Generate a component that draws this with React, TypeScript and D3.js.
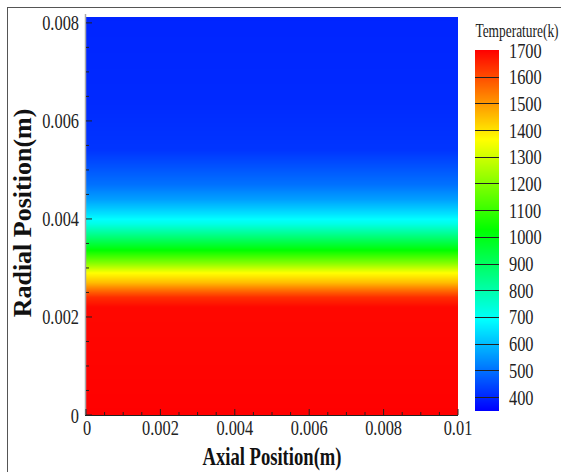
import React from "react";
import * as d3 from "d3";

// Radial temperature profile (uniform along axial direction)
const radialPosition = [0, 0.0022, 0.0024, 0.00255, 0.0027, 0.0029, 0.0031, 0.0034, 0.0037, 0.0039, 0.0041, 0.0044, 0.0047, 0.0054, 0.0064, 0.00812];
const temperature = [1700, 1690, 1640, 1550, 1450, 1360, 1200, 1000, 830, 720, 650, 560, 500, 420, 405, 398];

const xTicks = [0, 0.002, 0.004, 0.006, 0.008, 0.01];
const xTickLabels = ["0", "0.002", "0.004", "0.006", "0.008", "0.01"];
const yTicks = [0, 0.002, 0.004, 0.006, 0.008];
const yTickLabels = ["0", "0.002", "0.004", "0.006", "0.008"];
const legendLevels = [1700, 1600, 1500, 1400, 1300, 1200, 1100, 1000, 900, 800, 700, 600, 500, 400];

const W = 561;
const H = 472;
const FONT = "'Liberation Serif', 'Times New Roman', serif";
const SX = 0.745;

export default function App() {
  const x = d3.scaleLinear().domain([0, 0.01]).range([86, 458]);
  const y = d3.scaleLinear().domain([0, 0.00812]).range([415, 17]);
  const color = d3
    .scaleLinear<string>()
    .domain([350, 687.5, 1025, 1362.5, 1700])
    .range(["#0000ff", "#00ffff", "#00ff00", "#ffff00", "#ff0000"])
    .interpolate(d3.interpolateRgb)
    .clamp(true);
  const profile = d3.scaleLinear().domain(radialPosition).range(temperature).clamp(true);
  const cb = d3.scaleLinear().domain([400, 1700]).range([397, 50]);

  const [py0, py1] = [y.range()[1], y.range()[0]];
  const rows: number[] = d3.range(py0, py1, 1);
  const cbTop = cb(1700);
  const cbBot = cb(350);
  const cbRows: number[] = d3.range(cbTop, cbBot, 1);

  const xMinor = d3.range(0, 0.01 + 1e-9, 0.0005);
  const yMinor = d3.range(0, 0.00812, 0.0005);

  return (
    <svg width={W} height={H} style={{ position: "absolute", left: 0, top: 0, background: "#fff" }} fontFamily={FONT}>
      <rect x={0} y={0} width={W} height={H} fill="#fff" />
      {/* outer frame */}
      <line x1={7} x2={W} y1={7.5} y2={7.5} stroke="#555" strokeWidth={1} />
      <line x1={7.5} x2={7.5} y1={7} y2={H} stroke="#555" strokeWidth={1} />

      {/* field */}
      <g shapeRendering="crispEdges">
        {rows.map((py) => (
          <rect key={py} x={x(0)} y={py} width={x(0.01) - x(0)} height={1.2} fill={color(profile(y.invert(py + 0.5)))} />
        ))}
      </g>

      {/* axes lines */}
      <line x1={x(0) - 0.5} x2={x(0) - 0.5} y1={14} y2={y(0)} stroke="#aaa" strokeWidth={1.5} />
      <line x1={x(0) - 1} x2={x(0.01)} y1={y(0) + 0.5} y2={y(0) + 0.5} stroke="#222" strokeWidth={1.2} />

      {/* ticks */}
      {xMinor.map((t, i) => (
        <line key={"xm" + i} x1={x(t)} x2={x(t)} y1={y(0)} y2={y(0) - (i % 4 === 0 ? 6 : 3)} stroke="#222" strokeWidth={1} />
      ))}
      {yMinor.map((t, i) => (
        <line key={"ym" + i} x1={x(0)} x2={x(0) + (i % 4 === 0 ? 6 : 3)} y1={y(t)} y2={y(t)} stroke="#222" strokeWidth={1} />
      ))}

      {/* tick labels */}
      {xTicks.map((t, i) => (
        <text key={"xl" + i} transform={`translate(${x(t) + (i === 0 ? 1 : 0)},${435}) scale(${SX},1)`} textAnchor="middle" fontSize={22} fill="#222">
          {xTickLabels[i]}
        </text>
      ))}
      {yTicks.map((t, i) => (
        <text key={"yl" + i} transform={`translate(${79},${y(t) + 7.5}) scale(${SX},1)`} textAnchor="end" fontSize={22} fill="#222">
          {yTickLabels[i]}
        </text>
      ))}

      {/* axis titles */}
      <text transform={`translate(272,465) scale(${SX},1)`} textAnchor="middle" fontSize={25} fontWeight="bold" fill="#111">
        Axial Position(m)
      </text>
      <text transform={`translate(31,213) rotate(-90)`} textAnchor="middle" fontSize={26} fontWeight="bold" fill="#111">
        Radial Position(m)
      </text>

      {/* colorbar */}
      <g shapeRendering="crispEdges">
        {cbRows.map((py) => (
          <rect key={"cb" + py} x={475} y={py} width={24} height={1.2} fill={color(cb.invert(py + 0.5))} />
        ))}
        {legendLevels
          .filter((v) => v < 1700)
          .map((v) => (
            <line key={"cl" + v} x1={475} x2={499} y1={Math.round(cb(v)) + 0.5} y2={Math.round(cb(v)) + 0.5} stroke="#222" strokeWidth={1} />
          ))}
      </g>
      {legendLevels.map((v) => (
        <text key={"ct" + v} transform={`translate(509,${cb(v) + 7.5}) scale(${SX},1)`} fontSize={22} fill="#222">
          {v}
        </text>
      ))}
      <text transform={`translate(517,37) scale(${SX},1)`} textAnchor="middle" fontSize={18} fill="#222">
        Temperature(k)
      </text>
    </svg>
  );
}
